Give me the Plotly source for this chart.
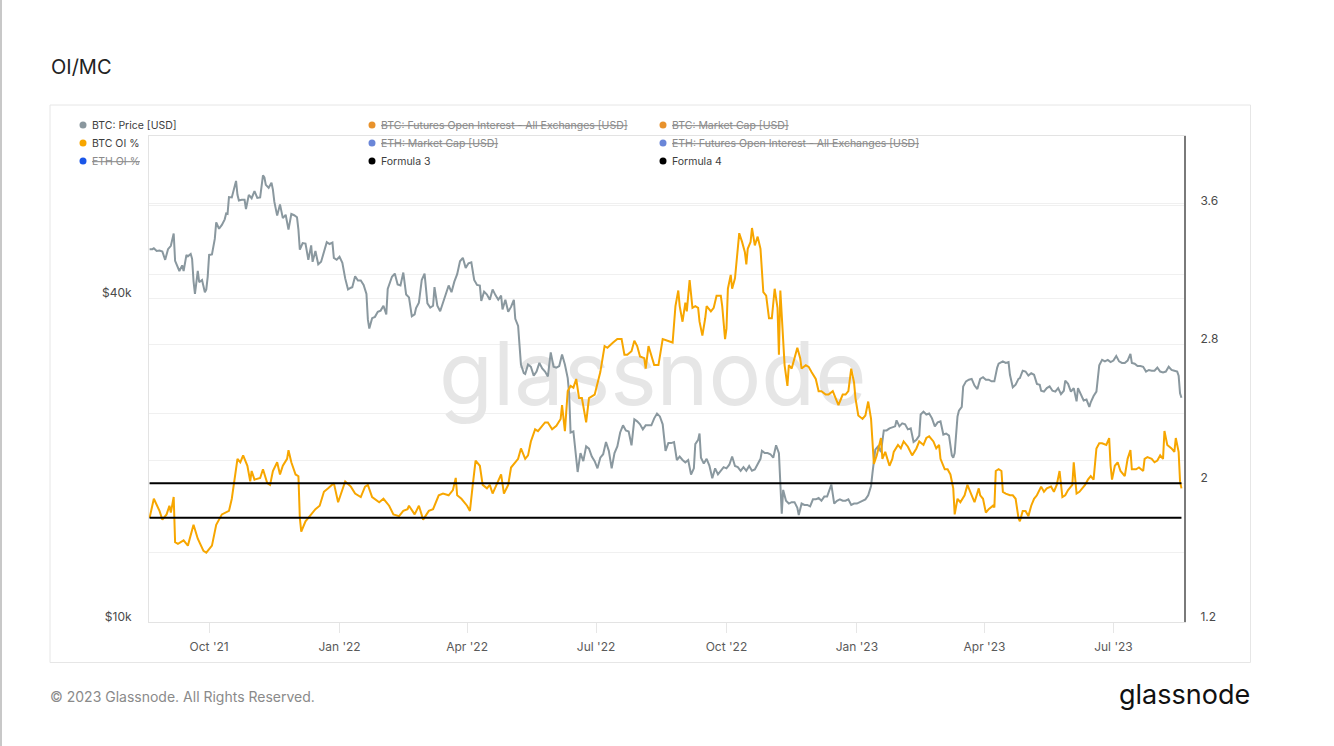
import plotly.graph_objects as go

# ---------------- data ----------------
TITLE = "OI/MC"

X_TICK_DATES = ["2021-10-01", "2022-01-01", "2022-04-01", "2022-07-01",
                "2022-10-01", "2023-01-01", "2023-04-01", "2023-07-01"]
X_TICK_LABELS = ["Oct '21", "Jan '22", "Apr '22", "Jul '22",
                 "Oct '22", "Jan '23", "Apr '23", "Jul '23"]

LEFT_TICK_VALUES = [10000, 20000, 40000, 60000]
LEFT_TICK_LABELS = ["$10k", "", "$40k", ""]
RIGHT_TICK_VALUES = [1.2, 1.6, 2.0, 2.4, 2.8, 3.2, 3.6]
RIGHT_TICK_LABELS = ["1.2", "", "2", "", "2.8", "", "3.6"]

# BTC: Price [USD] (thousands of USD)
PRICE_DATES = [
    "2021-08-20", "2021-08-22", "2021-08-23", "2021-08-25", "2021-08-27", "2021-08-29", "2021-08-31",
    "2021-09-02", "2021-09-04", "2021-09-06", "2021-09-07", "2021-09-08", "2021-09-10", "2021-09-12",
    "2021-09-13", "2021-09-15", "2021-09-16", "2021-09-18", "2021-09-19", "2021-09-20", "2021-09-21",
    "2021-09-23", "2021-09-24", "2021-09-26", "2021-09-28", "2021-09-29", "2021-09-30", "2021-10-01",
    "2021-10-03", "2021-10-05", "2021-10-06", "2021-10-08", "2021-10-10", "2021-10-12", "2021-10-13",
    "2021-10-14", "2021-10-15", "2021-10-17", "2021-10-19", "2021-10-20", "2021-10-21", "2021-10-22",
    "2021-10-24", "2021-10-26", "2021-10-27", "2021-10-29", "2021-10-31", "2021-11-02", "2021-11-04",
    "2021-11-06", "2021-11-08", "2021-11-09", "2021-11-10", "2021-11-12", "2021-11-14", "2021-11-15",
    "2021-11-16", "2021-11-18", "2021-11-20", "2021-11-22", "2021-11-24", "2021-11-26", "2021-11-28",
    "2021-11-30", "2021-12-02", "2021-12-03", "2021-12-04", "2021-12-06", "2021-12-08", "2021-12-10",
    "2021-12-12", "2021-12-13", "2021-12-15", "2021-12-17", "2021-12-19", "2021-12-21", "2021-12-23",
    "2021-12-25", "2021-12-27", "2021-12-28", "2021-12-30",
    "2022-01-01", "2022-01-03", "2022-01-05", "2022-01-07", "2022-01-09", "2022-01-10", "2022-01-12",
    "2022-01-14", "2022-01-16", "2022-01-18", "2022-01-20", "2022-01-21", "2022-01-22", "2022-01-24",
    "2022-01-26", "2022-01-28", "2022-01-30", "2022-02-01", "2022-02-03", "2022-02-04", "2022-02-07",
    "2022-02-09", "2022-02-11", "2022-02-13", "2022-02-15", "2022-02-17", "2022-02-19", "2022-02-21",
    "2022-02-23", "2022-02-24", "2022-02-26", "2022-02-28", "2022-03-02", "2022-03-04", "2022-03-06",
    "2022-03-08", "2022-03-09", "2022-03-11", "2022-03-13", "2022-03-15", "2022-03-17", "2022-03-19",
    "2022-03-21", "2022-03-23", "2022-03-25", "2022-03-27", "2022-03-29", "2022-03-31", "2022-04-02",
    "2022-04-04", "2022-04-06", "2022-04-08", "2022-04-10", "2022-04-11", "2022-04-13", "2022-04-15",
    "2022-04-17", "2022-04-19", "2022-04-21", "2022-04-23", "2022-04-25", "2022-04-26", "2022-04-28",
    "2022-04-30", "2022-05-02", "2022-05-04", "2022-05-05", "2022-05-07", "2022-05-09", "2022-05-11",
    "2022-05-12", "2022-05-14", "2022-05-16", "2022-05-18", "2022-05-20", "2022-05-22", "2022-05-24",
    "2022-05-26", "2022-05-28", "2022-05-30", "2022-06-01", "2022-06-03", "2022-06-05", "2022-06-07",
    "2022-06-09", "2022-06-11", "2022-06-12", "2022-06-13", "2022-06-15", "2022-06-17", "2022-06-18",
    "2022-06-20", "2022-06-22", "2022-06-24", "2022-06-26", "2022-06-28", "2022-06-30", "2022-07-02",
    "2022-07-04", "2022-07-06", "2022-07-08", "2022-07-10", "2022-07-12", "2022-07-14", "2022-07-16",
    "2022-07-18", "2022-07-20", "2022-07-22", "2022-07-24", "2022-07-26", "2022-07-28", "2022-07-30",
    "2022-08-01", "2022-08-03", "2022-08-05", "2022-08-07", "2022-08-09", "2022-08-11", "2022-08-13",
    "2022-08-15", "2022-08-17", "2022-08-19", "2022-08-21", "2022-08-23", "2022-08-25", "2022-08-27",
    "2022-08-29", "2022-08-31", "2022-09-02", "2022-09-04", "2022-09-06", "2022-09-08", "2022-09-09",
    "2022-09-11", "2022-09-12", "2022-09-13", "2022-09-15", "2022-09-17", "2022-09-19", "2022-09-21",
    "2022-09-23", "2022-09-25", "2022-09-27", "2022-09-29", "2022-10-01", "2022-10-03", "2022-10-05",
    "2022-10-07", "2022-10-09", "2022-10-11", "2022-10-13", "2022-10-15", "2022-10-17", "2022-10-19",
    "2022-10-21", "2022-10-23", "2022-10-25", "2022-10-26", "2022-10-28", "2022-10-30", "2022-11-01",
    "2022-11-03", "2022-11-05", "2022-11-07", "2022-11-08", "2022-11-09", "2022-11-10", "2022-11-12",
    "2022-11-14", "2022-11-16", "2022-11-18", "2022-11-20", "2022-11-21", "2022-11-23", "2022-11-25",
    "2022-11-27", "2022-11-29", "2022-12-01", "2022-12-03", "2022-12-05", "2022-12-07", "2022-12-09",
    "2022-12-11", "2022-12-13", "2022-12-14", "2022-12-16", "2022-12-18", "2022-12-20", "2022-12-22",
    "2022-12-24", "2022-12-26", "2022-12-28", "2022-12-30",
    "2023-01-01", "2023-01-03", "2023-01-05", "2023-01-07", "2023-01-09", "2023-01-11", "2023-01-12",
    "2023-01-13", "2023-01-14", "2023-01-16", "2023-01-18", "2023-01-20", "2023-01-22", "2023-01-24",
    "2023-01-26", "2023-01-28", "2023-01-29", "2023-01-31", "2023-02-02", "2023-02-04", "2023-02-06",
    "2023-02-08", "2023-02-10", "2023-02-12", "2023-02-14", "2023-02-15", "2023-02-17", "2023-02-19",
    "2023-02-21", "2023-02-23", "2023-02-25", "2023-02-27", "2023-03-01", "2023-03-03", "2023-03-05",
    "2023-03-07", "2023-03-09", "2023-03-10", "2023-03-11", "2023-03-12", "2023-03-13", "2023-03-14",
    "2023-03-16", "2023-03-17", "2023-03-19", "2023-03-21", "2023-03-23", "2023-03-25", "2023-03-27",
    "2023-03-29", "2023-03-31", "2023-04-02", "2023-04-04", "2023-04-06", "2023-04-08", "2023-04-10",
    "2023-04-11", "2023-04-13", "2023-04-14", "2023-04-16", "2023-04-18", "2023-04-19", "2023-04-21",
    "2023-04-23", "2023-04-25", "2023-04-26", "2023-04-28", "2023-04-30", "2023-05-02", "2023-05-04",
    "2023-05-06", "2023-05-08", "2023-05-10", "2023-05-11", "2023-05-13", "2023-05-15", "2023-05-17",
    "2023-05-19", "2023-05-21", "2023-05-23", "2023-05-25", "2023-05-27", "2023-05-28", "2023-05-30",
    "2023-06-01", "2023-06-03", "2023-06-05", "2023-06-06", "2023-06-08", "2023-06-10", "2023-06-12",
    "2023-06-14", "2023-06-15", "2023-06-17", "2023-06-19", "2023-06-20", "2023-06-21", "2023-06-23",
    "2023-06-25", "2023-06-27", "2023-06-29", "2023-07-01", "2023-07-03", "2023-07-05", "2023-07-07",
    "2023-07-09", "2023-07-11", "2023-07-13", "2023-07-14", "2023-07-16", "2023-07-18", "2023-07-20",
    "2023-07-22", "2023-07-24", "2023-07-26", "2023-07-28", "2023-07-30", "2023-08-01", "2023-08-03",
    "2023-08-05", "2023-08-07", "2023-08-09", "2023-08-11", "2023-08-13", "2023-08-15", "2023-08-16",
    "2023-08-17", "2023-08-18",
]
PRICE_K = [
    49.3, 49.3, 49.5, 48.9, 49.0, 48.8, 47.1,
    49.3, 50.0, 52.7, 46.9, 46.1, 44.9, 46.0,
    44.9, 48.1, 47.8, 48.3, 47.3, 43.0, 40.7,
    44.9, 42.8, 43.2, 41.0, 41.5, 43.8, 48.1,
    48.2, 51.5, 55.3, 53.8, 54.7, 56.0, 57.4,
    57.3, 61.6, 61.5, 64.3, 66.0, 62.2, 60.7,
    60.9, 60.9, 58.5, 62.2, 61.3, 63.2, 61.4,
    61.5, 67.6, 67.0, 64.9, 64.1, 65.5, 63.6,
    60.4, 56.9, 59.7, 56.3, 57.1, 53.6, 57.3,
    57.0, 56.5, 53.6, 49.2, 50.6, 50.5, 47.1,
    50.1, 46.7, 48.9, 46.2, 46.7, 49.0, 50.8,
    50.4, 50.7, 47.5, 47.1,
    47.7, 46.5, 43.5, 41.5, 41.8, 41.9, 43.9,
    43.1, 43.1, 42.3, 40.7, 36.5, 35.1, 36.7,
    36.9, 37.7, 37.9, 38.7, 37.3, 41.6, 43.8,
    44.4, 42.4, 42.2, 44.6, 40.6, 40.1, 37.0,
    37.3, 38.3, 39.2, 43.2, 44.4, 39.1, 38.4,
    38.7, 41.9, 38.7, 37.8, 39.3, 40.9, 42.2,
    41.0, 42.9, 44.3, 46.8, 47.5, 45.5, 46.4,
    46.6, 43.2, 42.3, 42.2, 39.5, 41.1, 40.6,
    39.7, 41.5, 40.5, 39.7, 40.4, 38.1, 39.7,
    37.7, 38.5, 39.7, 36.6, 35.5, 30.1, 29.0,
    28.9, 30.1, 29.8, 28.7, 29.2, 30.3, 29.6,
    29.2, 28.6, 31.7, 29.8, 29.7, 29.9, 31.4,
    30.1, 28.4, 26.6, 22.5, 22.6, 20.4, 19.0,
    20.6, 19.9, 21.2, 21.0, 20.3, 19.9, 19.3,
    20.2, 20.5, 21.6, 20.8, 19.3, 20.6, 21.2,
    22.5, 23.2, 22.7, 22.6, 21.3, 23.8, 23.6,
    23.3, 22.8, 23.2, 23.2, 23.2, 23.9, 24.4,
    24.1, 23.3, 20.8, 21.5, 21.5, 21.6, 20.0,
    20.3, 20.0, 19.8, 20.0, 18.8, 19.3, 21.4,
    21.8, 22.4, 20.2, 19.7, 20.1, 19.5, 18.5,
    19.3, 18.8, 19.1, 19.4, 19.3, 19.6, 20.3,
    19.5, 19.4, 19.1, 19.4, 19.1, 19.5, 19.1,
    19.2, 19.6, 20.1, 20.8, 20.6, 20.6, 20.5,
    20.2, 21.3, 20.6, 18.5, 15.9, 17.6, 16.8,
    16.6, 16.7, 16.7, 16.3, 15.8, 16.6, 16.5,
    16.5, 16.4, 16.9, 16.9, 17.0, 16.8, 17.1,
    17.1, 17.8, 18.0, 16.6, 16.8, 16.9, 16.8,
    16.8, 16.9, 16.5, 16.6,
    16.6, 16.7, 16.8, 16.9, 17.2, 17.9, 18.9,
    19.9, 20.9, 21.2, 20.7, 22.7, 22.7, 22.9,
    23.0, 23.1, 23.7, 23.1, 23.4, 23.3, 22.8,
    22.9, 21.6, 21.8, 22.2, 24.3, 24.6, 24.3,
    24.4, 23.9, 23.1, 23.5, 23.6, 22.3, 22.4,
    22.2, 20.4, 20.2, 20.6, 22.1, 24.1, 24.7,
    25.1, 27.4, 28.0, 28.2, 28.3, 27.5, 27.1,
    28.3, 28.5, 28.2, 28.2, 28.0, 28.0, 29.7,
    30.2, 30.4, 30.5, 30.3, 30.4, 28.8, 27.3,
    27.6, 28.3, 28.4, 29.3, 29.2, 28.7, 29.0,
    28.8, 27.7, 27.6, 26.9, 26.8, 27.2, 27.4,
    26.9, 26.8, 27.2, 26.5, 26.9, 28.1, 27.7,
    26.8, 27.2, 25.7, 27.2, 26.5, 25.8, 25.9,
    25.1, 25.6, 26.3, 26.8, 28.3, 30.0, 30.7,
    30.5, 30.7, 30.4, 30.6, 31.2, 30.5, 30.3,
    30.3, 30.6, 31.5, 30.3, 30.2, 29.9, 29.9,
    29.8, 29.2, 29.4, 29.3, 29.3, 29.7, 29.2,
    29.1, 29.2, 29.8, 29.4, 29.3, 29.2, 28.7,
    26.6, 26.1,
]

# BTC OI % (right axis)
OI_DATES = [
    "2021-08-20", "2021-08-23", "2021-08-27", "2021-08-29", "2021-09-01", "2021-09-03", "2021-09-04",
    "2021-09-06", "2021-09-07", "2021-09-09", "2021-09-13", "2021-09-16", "2021-09-20", "2021-09-23",
    "2021-09-27", "2021-09-29", "2021-10-03", "2021-10-06", "2021-10-10", "2021-10-15", "2021-10-17",
    "2021-10-19", "2021-10-21", "2021-10-23", "2021-10-25", "2021-10-28", "2021-10-30", "2021-10-31",
    "2021-11-02", "2021-11-06", "2021-11-08", "2021-11-11", "2021-11-13", "2021-11-15", "2021-11-18",
    "2021-11-20", "2021-11-22", "2021-11-25", "2021-11-26", "2021-11-28", "2021-12-01", "2021-12-03",
    "2021-12-04", "2021-12-05", "2021-12-08", "2021-12-10", "2021-12-12", "2021-12-15", "2021-12-18",
    "2021-12-21", "2021-12-24", "2021-12-28", "2021-12-31",
    "2022-01-03", "2022-01-05", "2022-01-09", "2022-01-12", "2022-01-16", "2022-01-19", "2022-01-21",
    "2022-01-24", "2022-01-29", "2022-02-01", "2022-02-05", "2022-02-08", "2022-02-12", "2022-02-15",
    "2022-02-18", "2022-02-19", "2022-02-23", "2022-02-26", "2022-03-01", "2022-03-05", "2022-03-08",
    "2022-03-12", "2022-03-15", "2022-03-19", "2022-03-22", "2022-03-24", "2022-03-25", "2022-03-28",
    "2022-04-01", "2022-04-03", "2022-04-05", "2022-04-07", "2022-04-10", "2022-04-12", "2022-04-15",
    "2022-04-17", "2022-04-19", "2022-04-22", "2022-04-25", "2022-04-27", "2022-04-30", "2022-05-02",
    "2022-05-05", "2022-05-07", "2022-05-09", "2022-05-12", "2022-05-14", "2022-05-16", "2022-05-19",
    "2022-05-21", "2022-05-24", "2022-05-26", "2022-05-28", "2022-05-31", "2022-06-03", "2022-06-06",
    "2022-06-07", "2022-06-09", "2022-06-11", "2022-06-13", "2022-06-15", "2022-06-17", "2022-06-19",
    "2022-06-21", "2022-06-24", "2022-06-26", "2022-06-30", "2022-07-02", "2022-07-04", "2022-07-07",
    "2022-07-09", "2022-07-13", "2022-07-16", "2022-07-19", "2022-07-21", "2022-07-23", "2022-07-26",
    "2022-07-28", "2022-07-30", "2022-08-01", "2022-08-04", "2022-08-05", "2022-08-07", "2022-08-11",
    "2022-08-14", "2022-08-17", "2022-08-21", "2022-08-24", "2022-08-26", "2022-08-28", "2022-08-29",
    "2022-08-31", "2022-09-02", "2022-09-03", "2022-09-05", "2022-09-07", "2022-09-09", "2022-09-11",
    "2022-09-12", "2022-09-14", "2022-09-16", "2022-09-17", "2022-09-20", "2022-09-22", "2022-09-24",
    "2022-09-27", "2022-09-28", "2022-09-30", "2022-10-01", "2022-10-02", "2022-10-04", "2022-10-05",
    "2022-10-07", "2022-10-10", "2022-10-12", "2022-10-14", "2022-10-15", "2022-10-16", "2022-10-18",
    "2022-10-19", "2022-10-21", "2022-10-23", "2022-10-25", "2022-10-26", "2022-10-27", "2022-10-29",
    "2022-10-31", "2022-11-02", "2022-11-04", "2022-11-06", "2022-11-07", "2022-11-08", "2022-11-10",
    "2022-11-11", "2022-11-13", "2022-11-14", "2022-11-16", "2022-11-19", "2022-11-20", "2022-11-22",
    "2022-11-23", "2022-11-26", "2022-11-28", "2022-11-30", "2022-12-03", "2022-12-05", "2022-12-07",
    "2022-12-10", "2022-12-12", "2022-12-15", "2022-12-17", "2022-12-19", "2022-12-22", "2022-12-24",
    "2022-12-26", "2022-12-28", "2022-12-30", "2022-12-31",
    "2023-01-02", "2023-01-05", "2023-01-07", "2023-01-09", "2023-01-11", "2023-01-13", "2023-01-15",
    "2023-01-18", "2023-01-19", "2023-01-21", "2023-01-24", "2023-01-26", "2023-01-27", "2023-01-30",
    "2023-02-01", "2023-02-03", "2023-02-06", "2023-02-09", "2023-02-12", "2023-02-14", "2023-02-17",
    "2023-02-19", "2023-02-21", "2023-02-24", "2023-02-26", "2023-02-28", "2023-03-01", "2023-03-04",
    "2023-03-06", "2023-03-08", "2023-03-10", "2023-03-11", "2023-03-13", "2023-03-15", "2023-03-18",
    "2023-03-20", "2023-03-23", "2023-03-25", "2023-03-28", "2023-03-29", "2023-03-31", "2023-04-02",
    "2023-04-04", "2023-04-07", "2023-04-08", "2023-04-09", "2023-04-11", "2023-04-13", "2023-04-14",
    "2023-04-16", "2023-04-19", "2023-04-21", "2023-04-23", "2023-04-25", "2023-04-26", "2023-04-28",
    "2023-04-30", "2023-05-02", "2023-05-04", "2023-05-06", "2023-05-08", "2023-05-11", "2023-05-13",
    "2023-05-15", "2023-05-18", "2023-05-20", "2023-05-22", "2023-05-24", "2023-05-26", "2023-05-28",
    "2023-05-30", "2023-06-02", "2023-06-03", "2023-06-05", "2023-06-07", "2023-06-09", "2023-06-11",
    "2023-06-13", "2023-06-15", "2023-06-17", "2023-06-19", "2023-06-21", "2023-06-23", "2023-06-26",
    "2023-06-28", "2023-06-29", "2023-06-30", "2023-07-02", "2023-07-04", "2023-07-06", "2023-07-09",
    "2023-07-11", "2023-07-13", "2023-07-14", "2023-07-17", "2023-07-19", "2023-07-22", "2023-07-23",
    "2023-07-25", "2023-07-28", "2023-07-30", "2023-08-01", "2023-08-03", "2023-08-05", "2023-08-06",
    "2023-08-08", "2023-08-11", "2023-08-13", "2023-08-14", "2023-08-16", "2023-08-17", "2023-08-18",
]
OI_PCT = [
    1.80, 1.91, 1.84, 1.79, 1.82, 1.87, 1.83,
    1.92, 1.66, 1.65, 1.67, 1.64, 1.76, 1.68,
    1.61, 1.60, 1.64, 1.76, 1.82, 1.84, 1.91,
    2.03, 2.14, 2.12, 2.16, 2.10, 2.01, 2.07,
    2.02, 2.03, 2.08, 2.00, 1.99, 2.07, 2.12,
    2.05, 2.10, 2.14, 2.19, 2.12, 2.05, 2.04,
    1.80, 1.72, 1.78, 1.80, 1.82, 1.85, 1.87,
    1.95, 1.97, 2.00, 1.89,
    1.96, 2.01, 1.98, 1.94, 1.92, 1.98, 1.99,
    1.92, 1.89, 1.91, 1.87, 1.82, 1.81, 1.84,
    1.85, 1.87, 1.82, 1.87, 1.79, 1.84, 1.85,
    1.93, 1.94, 1.93, 1.96, 2.03, 1.93, 1.91,
    1.87, 1.84, 1.99, 2.13, 2.10, 1.99, 1.97,
    1.99, 1.94, 2.00, 2.05, 1.94, 1.99, 2.09,
    2.12, 2.14, 2.20, 2.14, 2.16, 2.24, 2.31,
    2.30, 2.33, 2.35, 2.35, 2.31, 2.33, 2.37,
    2.45, 2.30, 2.53, 2.56, 2.55, 2.60, 2.49,
    2.49, 2.35, 2.49, 2.51, 2.58, 2.64, 2.79,
    2.78, 2.81, 2.83, 2.83, 2.74, 2.74, 2.76,
    2.82, 2.79, 2.73, 2.72, 2.66, 2.79, 2.68,
    2.68, 2.83, 2.82, 2.81, 3.02, 3.11, 3.02,
    2.93, 3.04, 2.99, 3.17, 3.01, 3.02, 3.01,
    2.93, 2.85, 2.95, 3.02, 2.99, 3.01, 3.08,
    3.08, 3.02, 2.83, 2.89, 3.12, 3.20, 3.12,
    3.18, 3.44, 3.39, 3.33, 3.26, 3.35, 3.39,
    3.47, 3.37, 3.42, 3.35, 3.20, 3.10, 3.08,
    2.95, 2.95, 3.12, 3.01, 2.74, 3.11, 2.79,
    2.68, 2.56, 2.68, 2.66, 2.74, 2.78, 2.72,
    2.66, 2.68, 2.67, 2.64, 2.60, 2.53, 2.53,
    2.51, 2.51, 2.53, 2.49, 2.45, 2.51, 2.51,
    2.53, 2.66, 2.58, 2.49,
    2.39, 2.37, 2.39, 2.47, 2.37, 2.11, 2.16,
    2.26, 2.14, 2.18, 2.10, 2.14, 2.18, 2.22,
    2.20, 2.24, 2.21, 2.16, 2.20, 2.24, 2.22,
    2.26, 2.27, 2.24, 2.20, 2.22, 2.14, 2.08,
    2.08, 2.05, 1.97, 1.82, 1.91, 1.89, 1.93,
    1.99, 1.93, 1.89, 1.97, 1.93, 1.91, 1.83,
    1.85, 1.87, 1.86, 2.07, 2.08, 2.07, 1.95,
    1.94, 1.93, 1.93, 1.91, 1.80, 1.78, 1.84,
    1.84, 1.81, 1.87, 1.91, 1.93, 1.98, 1.95,
    1.97, 1.98, 1.95, 1.99, 2.07, 1.92, 1.93,
    1.96, 1.99, 2.12, 1.94, 1.95, 1.97, 1.99,
    2.02, 2.04, 2.02, 2.20, 2.23, 2.23, 2.22,
    2.26, 2.10, 2.02, 2.10, 2.12, 2.07, 2.04,
    2.14, 2.19, 2.08, 2.08, 2.09, 2.07, 2.14,
    2.15, 2.14, 2.12, 2.13, 2.16, 2.14, 2.30,
    2.22, 2.20, 2.18, 2.26, 2.18, 2.01, 1.97,
]

# Formula 3 / Formula 4: constant reference levels on the OI % axis
FORMULA_DATES = ["2021-08-20", "2023-08-18"]
FORMULA_3 = [2.0, 2.0]
FORMULA_4 = [1.8, 1.8]

# legend entries (row-major, 3 columns): name, dot colour, hidden(struck)
LEGEND_NAMES = [
    "BTC: Price [USD]", "BTC: Futures Open Interest - All Exchanges [USD]", "BTC: Market Cap [USD]",
    "BTC OI %", "ETH: Market Cap [USD]", "ETH: Futures Open Interest - All Exchanges [USD]",
    "ETH OI %", "Formula 3", "Formula 4",
]
LEGEND_COLORS = [
    "#8a979e", "#e8922c", "#e8922c",
    "#f7a600", "#6a86d8", "#6a86d8",
    "#1a56e8", "#000000", "#000000",
]
LEGEND_HIDDEN = [False, True, True, False, True, True, True, False, False]

# ---------------- styling ----------------
FONT = "Inter, Roboto, 'Open Sans', sans-serif"
GRAY = "#8a989f"
ORANGE = "#f7a600"
W, H = 1334, 746
L, R, T, B = 149, 150, 136, 124
PW, PH = W - L - R, H - T - B


def px(xp):
    return (xp - L) / PW


def py(yp):
    return (H - B - yp) / PH


price_usd = [v * 1000 for v in PRICE_K]

fig = go.Figure()

# watermark (drawn first so data lines sit above it)
fig.add_trace(go.Scatter(
    x=["2022-08-10"], y=[27800], mode="text", text=["glassnode"],
    textfont=dict(family=FONT, size=88, color="#e6e6e6"),
    hoverinfo="skip", showlegend=False, yaxis="y", xaxis="x"))

fig.add_trace(go.Scatter(
    x=PRICE_DATES, y=price_usd, name="BTC: Price [USD]", mode="lines",
    line=dict(color=GRAY, width=2), yaxis="y", showlegend=False))

fig.add_trace(go.Scatter(
    x=OI_DATES, y=OI_PCT, name="BTC OI %", mode="lines",
    line=dict(color=ORANGE, width=2), yaxis="y2", showlegend=False))

fig.add_trace(go.Scatter(
    x=FORMULA_DATES, y=FORMULA_3, name="Formula 3", mode="lines",
    line=dict(color="#000000", width=2), yaxis="y2", showlegend=False))
fig.add_trace(go.Scatter(
    x=FORMULA_DATES, y=FORMULA_4, name="Formula 4", mode="lines",
    line=dict(color="#000000", width=2), yaxis="y2", showlegend=False))

annotations = []
shapes = []

# legend
COL_DOT = [83, 372, 663]
COL_TXT = [90, 379, 670]
ROW_Y = [125, 143, 161]
for i, name in enumerate(LEGEND_NAMES):
    r, c = divmod(i, 3)
    hidden = LEGEND_HIDDEN[i]
    shapes.append(dict(
        type="circle", xref="paper", yref="paper",
        xsizemode="pixel", ysizemode="pixel",
        xanchor=px(COL_DOT[c]), yanchor=py(ROW_Y[r]),
        x0=-3.5, x1=3.5, y0=-3.5, y1=3.5,
        fillcolor=LEGEND_COLORS[i], line=dict(width=0), layer="above"))
    txt = f"<s>{name}</s>" if hidden else name
    annotations.append(dict(
        text=txt, xref="paper", yref="paper", x=px(COL_TXT[c]), y=py(ROW_Y[r]),
        xanchor="left", yanchor="middle", showarrow=False,
        font=dict(family=FONT, size=10.5, color="#8a8a8a" if hidden else "#3d3d3d")))

# title, footer, logo
annotations.append(dict(text=TITLE, xref="paper", yref="paper", x=px(49), y=py(67),
                        xanchor="left", yanchor="middle", showarrow=False,
                        font=dict(family=FONT, size=20, color="#222222")))
annotations.append(dict(text="© 2023 Glassnode. All Rights Reserved.", xref="paper", yref="paper",
                        x=px(48), y=py(696), xanchor="left", yanchor="middle", showarrow=False,
                        font=dict(family=FONT, size=14, color="#8a8a8a")))
annotations.append(dict(text="glassnode", xref="paper", yref="paper",
                        x=px(1252), y=py(694), xanchor="right", yanchor="middle", showarrow=False,
                        font=dict(family=FONT, size=27, color="#111111")))

# outer panel border and page edge line
shapes.append(dict(type="rect", xref="paper", yref="paper",
                   x0=px(50), x1=px(1250.5), y0=py(662.5), y1=py(105),
                   line=dict(color="#e6e6e6", width=1), layer="below"))
shapes.append(dict(type="line", xref="paper", yref="paper",
                   x0=px(1), x1=px(1), y0=py(0), y1=py(746),
                   line=dict(color="#c8c8c8", width=2)))

fig.update_layout(
    width=W, height=H,
    margin=dict(l=L, r=R, t=T, b=B, pad=0),
    paper_bgcolor="white", plot_bgcolor="rgba(0,0,0,0)",
    font=dict(family=FONT, size=12, color="#5a5a5a"),
    showlegend=False,
    annotations=annotations, shapes=shapes,
    xaxis=dict(
        type="date", range=["2021-08-19 14:00", "2023-08-19 19:00"],
        tickvals=X_TICK_DATES, ticktext=X_TICK_LABELS,
        showgrid=False, zeroline=False,
        showline=True, linecolor="#e3e3e3", linewidth=1, mirror=True,
        ticks="outside", ticklen=10, tickcolor="#e6e6e6", tickwidth=1,
        ticklabelstandoff=4,
        tickfont=dict(family=FONT, size=12, color="#5a5a5a"),
    ),
    yaxis=dict(
        type="log", range=[4, 4.90309],
        tickvals=LEFT_TICK_VALUES, ticktext=LEFT_TICK_LABELS,
        showgrid=True, gridcolor="#f0f0f0", gridwidth=1, zeroline=False,
        showline=True, linecolor="#e3e3e3", linewidth=1,
        ticks="", ticklabelstandoff=14, ticklabelshift=-5,
        tickfont=dict(family=FONT, size=12, color="#4a4a4a"),
    ),
    yaxis2=dict(
        overlaying="y", side="right", range=[1.2, 4.0],
        tickvals=RIGHT_TICK_VALUES, ticktext=RIGHT_TICK_LABELS,
        showgrid=True, gridcolor="#f0f0f0", gridwidth=1, zeroline=False,
        showline=True, linecolor="#7a7a7a", linewidth=2,
        ticks="", ticklabelstandoff=12, ticklabelshift=-5,
        tickfont=dict(family=FONT, size=12, color="#4a4a4a"),
    ),
)

fig.write_html("out.html", config={"displayModeBar": False},
               post_script="document.body.style.margin='0px';")
